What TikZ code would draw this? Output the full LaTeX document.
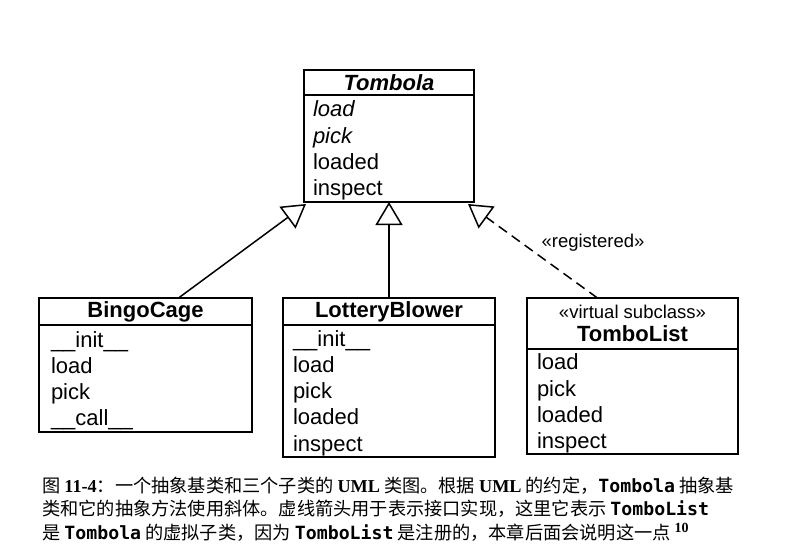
\documentclass[tikz,border=0pt]{standalone}
\usepackage{fontspec}
\setmainfont{Liberation Sans}
\newfontfamily\cjk{Noto Sans CJK SC}
\newfontfamily\capserif{Liberation Serif}
\newfontfamily\capmono{DejaVu Sans Mono}
\usetikzlibrary{arrows.meta}
\newcommand{\firststrut}{\rule{0pt}{20pt}}
\begin{document}
\begin{tikzpicture}[x=1pt,y=-1pt,
  box/.style={draw, line width=1.5pt, rectangle, inner sep=0pt, outer sep=0pt, anchor=north west},
  hdr/.style={box, font=\fontsize{22}{24}\selectfont\bfseries},
  body/.style={box, font=\fontsize{22}{26.2}\selectfont, align=left, inner xsep=9pt},
  inh/.style={line width=1.5pt, -{Triangle[open, length=23pt, width=27pt, fill=white, line width=1.5pt]}},
  reg/.style={inh, dash pattern=on 10pt off 6pt},
  lbl/.style={font=\fontsize{18.5}{20}\selectfont},
  captxt/.style={anchor=west, inner sep=0pt, font=\fontsize{18.2}{22}\selectfont}
]
\useasboundingbox (0,0) rectangle (800,558);
\fill[white] (0,0) rectangle (800,558);

% Tombola
\node[hdr, minimum width=170pt, minimum height=25pt] (tomH) at (304,70) {\itshape Tombola};
\node[body, minimum width=170pt, minimum height=107pt, text width=152pt] (tomB) at (tomH.south west)
  {\firststrut{\itshape load}\\ {\itshape pick}\\ loaded\\ inspect};

% BingoCage
\node[hdr, minimum width=213pt, minimum height=27pt] (bingoH) at (39,298) {BingoCage};
\node[body, minimum width=213pt, minimum height=107pt, text width=189pt, inner xsep=11pt] (bingoB) at (bingoH.south west)
  {\firststrut\_\_init\_\_\\ load\\ pick\\ \_\_call\_\_};

% LotteryBlower
\node[hdr, minimum width=212pt, minimum height=27pt] (lottH) at (283,298) {LotteryBlower};
\node[body, minimum width=212pt, minimum height=132pt, text width=192pt] (lottB) at (lottH.south west)
  {\firststrut\_\_init\_\_\\ load\\ pick\\ loaded\\ inspect};

% TomboList
\node[hdr, minimum width=211pt, minimum height=51pt, align=center] (tlH) at (527,298)
  {{\fontsize{18.5}{20}\selectfont\mdseries «virtual subclass»}\\[-1pt] TomboList};
\node[body, minimum width=211pt, minimum height=105pt, text width=191pt] (tlB) at (tlH.south west)
  {\firststrut load\\ pick\\ loaded\\ inspect};

% connectors
\coordinate (tipL) at ([xshift=2pt,yshift=-2pt]tomB.south west);
\coordinate (tipR) at ([xshift=-6pt,yshift=-2pt]tomB.south east);
\draw[inh] ([xshift=33pt]bingoH.north) -- (tipL);
\draw[inh] (lottH.north) -- (tomB.south);
\draw[reg] ([xshift=-35pt]tlH.north) -- (tipR);
\node[lbl] (regl) at (593,243) {«registered»};

% caption
\node[captxt] (c1) at (42,486) {\cjk 图 {\capserif\bfseries 11-4}：一个抽象基类和三个子类的 {\capserif\bfseries UML} 类图。根据 {\capserif\bfseries UML} 的约定，{\capmono\bfseries Tombola} 抽象基};
\node[captxt] (c2) at (42,509) {\cjk 类和它的抽象方法使用斜体。虚线箭头用于表示接口实现，这里它表示 {\capmono\bfseries TomboList}};
\node[captxt] (c3) at (42,532) {\cjk 是 {\capmono\bfseries Tombola} 的虚拟子类，因为 {\capmono\bfseries TomboList} 是注册的，本章后面会说明这一点 \raisebox{7pt}{\fontsize{14}{14}\selectfont\capserif\bfseries 10}};
\end{tikzpicture}
\end{document}
